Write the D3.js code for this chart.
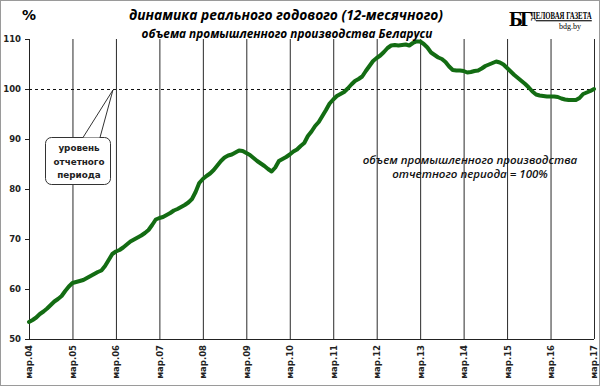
<!DOCTYPE html>
<html>
<head>
<meta charset="utf-8">
<script src="https://cdn.jsdelivr.net/npm/d3@7"></script>
<style>
  body { margin: 0; background: #fff; }
  svg { display: block; }
  .tick text { font-family: "DejaVu Sans", sans-serif; font-weight: bold; font-size: 8.5px; fill: #222; }
</style>
</head>
<body>
<div id="chart"></div>
<script>
// labels on the x axis (one per March)
const tickLabels = ["мар.04", "мар.05", "мар.06", "мар.07", "мар.08", "мар.09", "мар.10",
  "мар.11", "мар.12", "мар.13", "мар.14", "мар.15", "мар.16", "мар.17"];
const yTicks = [50, 60, 70, 80, 90, 100, 110];

// monthly index, % of the reporting period, march..february of each year
const y2004 = [53.4, 53.8, 54.3, 55.0, 55.5, 56.1, 56.8, 57.5, 58.0, 58.6, 59.6, 60.5];
const y2005 = [61.2, 61.4, 61.6, 61.8, 62.2, 62.6, 63.0, 63.4, 63.7, 64.6, 65.8, 67.0];
const y2006 = [67.5, 67.8, 68.3, 68.9, 69.5, 69.9, 70.3, 70.7, 71.2, 71.8, 72.8, 73.9];
const y2007 = [74.2, 74.4, 74.8, 75.2, 75.7, 76.0, 76.4, 76.8, 77.3, 78.0, 79.4, 81.2];
const y2008 = [82.0, 82.6, 83.1, 83.8, 84.7, 85.6, 86.3, 86.7, 86.9, 87.3, 87.7, 87.6];
const y2009 = [87.2, 86.8, 86.2, 85.6, 85.1, 84.6, 84.0, 83.5, 84.3, 85.6, 86.0, 86.4];
const y2010 = [86.9, 87.5, 87.9, 88.6, 89.2, 90.6, 91.5, 92.6, 93.4, 94.6, 95.8, 97.1];
const y2011 = [97.9, 98.6, 99.0, 99.4, 100.1, 100.9, 101.6, 102.0, 102.5, 103.6, 104.6, 105.6];
const y2012 = [106.2, 106.7, 107.4, 108.2, 108.7, 108.8, 108.7, 108.8, 108.9, 108.7, 109.2, 109.5];
const y2013 = [109.5, 109.0, 108.3, 107.3, 106.8, 106.3, 106.0, 105.4, 104.5, 103.8, 103.7, 103.7];
const y2014 = [103.6, 103.3, 103.4, 103.6, 103.7, 104.1, 104.6, 104.9, 105.2, 105.5, 105.3, 104.9];
const y2015 = [104.2, 103.5, 102.8, 102.2, 101.6, 101.0, 100.3, 99.5, 98.9, 98.7, 98.6, 98.5];
const y2016 = [98.5, 98.5, 98.4, 98.1, 97.9, 97.8, 97.8, 97.8, 98.2, 99.0, 99.3, 99.6];
const y2017 = [100.0];

const series = [].concat(y2004, y2005, y2006, y2007, y2008, y2009, y2010,
  y2011, y2012, y2013, y2014, y2015, y2016, y2017);

const W = 600, H = 386;
const plot = {left: 29, right: 594, top: 39, bottom: 339};

const svg = d3.select("#chart").append("svg")
  .attr("width", W)
  .attr("height", H);

// frame round the picture
svg.append("rect")
  .attr("x", 0.5).attr("y", 0.5)
  .attr("width", W - 1).attr("height", H - 1)
  .attr("fill", "#fff")
  .attr("stroke", "#9a9a9a");

const x = d3.scaleLinear()
  .domain([0, series.length - 1])
  .range([plot.left, plot.right]);

const y = d3.scaleLinear()
  .domain([50, 110])
  .range([plot.bottom, plot.top]);

const tickPos = tickLabels.map((d, i) => i * 12);

// vertical grid lines on each march
svg.append("g")
  .attr("transform", `translate(0, ${plot.bottom})`)
  .call(d3.axisBottom(x).tickValues(tickPos).tickSize(-(plot.bottom - plot.top)).tickFormat(""))
  .call(g => g.select(".domain").remove())
  .selectAll("line")
  .attr("stroke", "#2a2a2a");

// x axis with rotated labels
svg.append("g")
  .attr("transform", `translate(0, ${plot.bottom})`)
  .call(d3.axisBottom(x).tickValues(tickPos).tickSize(0).tickFormat((d, i) => tickLabels[i]))
  .call(g => g.select(".domain").attr("stroke", "#222").attr("d", `M${plot.left - 4},0.5H${plot.right}`))
  .selectAll("text")
  .attr("transform", "rotate(-90)")
  .attr("x", -6)
  .attr("y", 0)
  .attr("dy", "0.35em")
  .style("text-anchor", "end");

// y axis
svg.append("g")
  .attr("transform", `translate(${plot.left}, 0)`)
  .call(d3.axisLeft(y).tickValues(yTicks).tickSize(4).tickPadding(4))
  .call(g => g.select(".domain").attr("stroke", "#222").attr("d", `M0.5,${plot.top}V${plot.bottom}`))
  .call(g => g.selectAll("line").attr("stroke", "#222"));

// 100% reference line
svg.append("line")
  .attr("x1", plot.left).attr("x2", plot.right)
  .attr("y1", Math.round(y(100)) + 0.5).attr("y2", Math.round(y(100)) + 0.5)
  .attr("stroke", "#111")
  .attr("stroke-dasharray", "3,3");

// the series
const line = d3.line()
  .x((d, i) => x(i))
  .y(d => y(d));

svg.append("path")
  .datum(series)
  .attr("fill", "none")
  .attr("stroke", "#136c13")
  .attr("stroke-width", 4)
  .attr("stroke-linejoin", "round")
  .attr("stroke-linecap", "round")
  .attr("d", line);

// titles
svg.append("text")
  .attr("x", 29).attr("y", 20)
  .attr("text-anchor", "middle")
  .style("font-family", "DejaVu Sans, sans-serif")
  .style("font-weight", "bold")
  .style("font-size", "14px")
  .text("%");

svg.append("text")
  .attr("x", 286).attr("y", 20)
  .attr("text-anchor", "middle")
  .style("font-family", "Open Sans, sans-serif")
  .style("font-weight", "bold")
  .style("font-style", "italic")
  .style("font-size", "13.8px")
  .text("динамика реального годового (12-месячного)");

svg.append("text")
  .attr("x", 287).attr("y", 38)
  .attr("text-anchor", "middle")
  .style("font-family", "Open Sans, sans-serif")
  .style("font-weight", "bold")
  .style("font-style", "italic")
  .style("font-size", "11.8px")
  .text("объема промышленного производства Беларуси");

// logo
const logo = svg.append("g").style("font-family", "Liberation Serif, serif");
logo.append("text")
  .attr("x", 509).attr("y", 26)
  .style("font-weight", "bold")
  .style("font-size", "21px")
  .style("letter-spacing", "-3px")
  .text("БГ");
logo.append("text")
  .attr("transform", "translate(531,19) scale(0.62,1)")
  .style("font-weight", "bold")
  .style("font-size", "11px")
  .style("text-decoration", "underline")
  .text("ДЕЛОВАЯ ГАЗЕТА");
logo.append("text")
  .attr("x", 570).attr("y", 29)
  .attr("text-anchor", "middle")
  .style("font-size", "8px")
  .text("bdg.by");

// callout: level of reporting period
const tip = [x(24) - 3, Math.round(y(100)) + 1];
const call = svg.append("g");
call.append("path")
  .attr("d", `M83,137.5 L${tip[0]},${tip[1]} L100,137.5`)
  .attr("fill", "#fff")
  .attr("stroke", "#333");
call.append("rect")
  .attr("x", 45.5).attr("y", 137.5)
  .attr("width", 65).attr("height", 47)
  .attr("rx", 6)
  .attr("fill", "#fff")
  .attr("stroke", "#333");
call.append("path")
  .attr("d", "M83.5,138.5 H99.5")
  .attr("stroke", "#fff")
  .attr("stroke-width", 2);
call.selectAll("text.c")
  .data(["уровень", "отчетного", "периода"])
  .join("text")
  .attr("x", 79).attr("y", (d, i) => 151 + i * 13.5)
  .attr("text-anchor", "middle")
  .style("font-family", "DejaVu Sans, sans-serif")
  .style("font-weight", "bold")
  .style("font-size", "8.8px")
  .style("fill", "#222")
  .text(d => d);

// note
svg.selectAll("text.note")
  .data(["объем промышленного производства", "отчетного периода = 100%"])
  .join("text")
  .attr("x", 470).attr("y", (d, i) => 164 + i * 14)
  .attr("text-anchor", "middle")
  .style("font-family", "Open Sans, sans-serif")
  .style("font-style", "italic")
  .style("font-weight", "600")
  .style("font-size", "11.5px")
  .style("fill", "#111")
  .text(d => d);
</script>
</body>
</html>
